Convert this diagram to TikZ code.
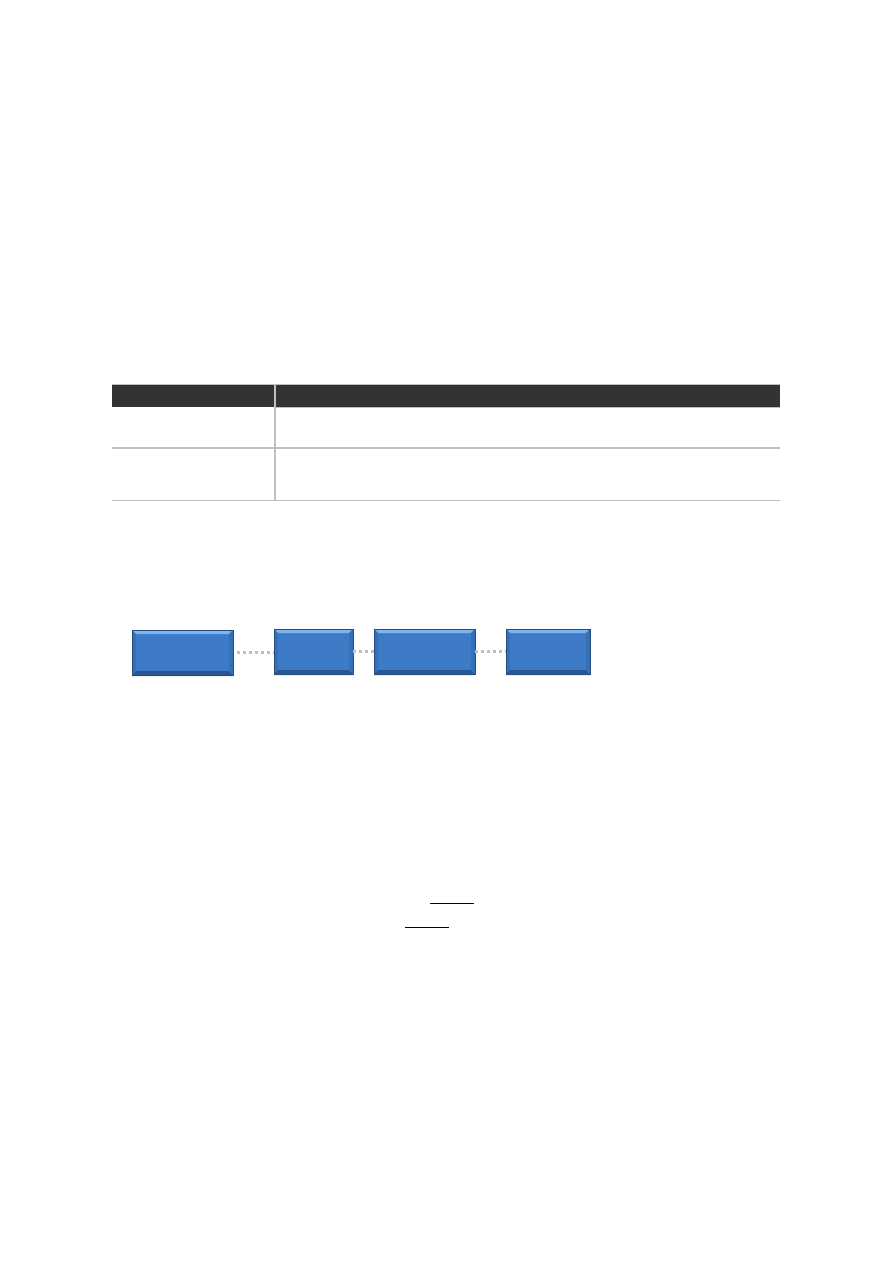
\documentclass[tikz,border=0pt]{standalone}
\usetikzlibrary{shadows}

\definecolor{headgray}{HTML}{333333}
\definecolor{rulegray}{HTML}{BFBFBF}
\definecolor{boxface}{HTML}{3D7BC6}
\definecolor{boxtop}{HTML}{7DB5F0}
\definecolor{boxbottom}{HTML}{2B5691}
\definecolor{boxside}{HTML}{3670B9}
\definecolor{boxline}{HTML}{264C7E}

\newcommand\TBleft{112}
\newcommand\TBright{780}
\newcommand\TBmid{275}
\newcommand\BVL{3pt}

\tikzset{
  bevelbox/.style={draw=boxline, line width=0.5pt, fill=boxface,
    minimum height=33.75pt, inner sep=0pt,
    drop shadow={opacity=0.15, shadow xshift=0pt, shadow yshift=-1.2pt},
    path picture={
      \fill[boxtop] (path picture bounding box.north west) -- (path picture bounding box.north east)
        -- ([xshift=-\BVL,yshift=-\BVL]path picture bounding box.north east)
        -- ([xshift=\BVL,yshift=-\BVL]path picture bounding box.north west) -- cycle;
      \fill[boxbottom] (path picture bounding box.south west) -- (path picture bounding box.south east)
        -- ([xshift=-\BVL,yshift=\BVL]path picture bounding box.south east)
        -- ([xshift=\BVL,yshift=\BVL]path picture bounding box.south west) -- cycle;
      \fill[boxside] (path picture bounding box.north west) -- ([xshift=\BVL,yshift=-\BVL]path picture bounding box.north west)
        -- ([xshift=\BVL,yshift=\BVL]path picture bounding box.south west) -- (path picture bounding box.south west) -- cycle;
      \fill[boxside] (path picture bounding box.north east) -- ([xshift=-\BVL,yshift=-\BVL]path picture bounding box.north east)
        -- ([xshift=-\BVL,yshift=\BVL]path picture bounding box.south east) -- (path picture bounding box.south east) -- cycle;
    }},
  dotlink/.style={rulegray, line width=2.25pt, dash pattern=on 2.25pt off 2.25pt}
}

\begin{document}
\begin{tikzpicture}[x=0.75pt,y=-0.75pt]

\useasboundingbox (0,0) rectangle (893,1263);

\coordinate (HL) at (\TBleft,384);
\coordinate (HR) at (\TBright,407);
\coordinate (ML) at (\TBleft,448);
\coordinate (MR) at (\TBright,448);
\coordinate (BL) at (\TBleft,500.5);
\coordinate (BR) at (\TBright,500.5);
\coordinate (CT) at (\TBmid,384);
\coordinate (CB) at (\TBmid,500.5);

 \fill[headgray] (HL) rectangle (HR);
 \draw[rulegray, line width=0.75pt] (HL) -- (HL -| HR);
 \draw[rulegray, line width=1.1pt] (\TBmid,407.5) -- (\TBright,407.5);
 \draw[rulegray, line width=0.9pt] (ML) -- (MR);
 \draw[rulegray, line width=0.9pt] (BL) -- (BR);
 \draw[rulegray, line width=1pt] (CT) -- (CB);

\node[bevelbox, minimum width=75.75pt] (BA) at (182.5,652.5) {};
\node[bevelbox, minimum width=59.25pt] (BB) at (313.5,651.5) {};
\node[bevelbox, minimum width=75.75pt] (BC) at (424.5,651.5) {};
\node[bevelbox, minimum width=63pt] (BD) at (548,651.5) {};

 \draw[dotlink] ([xshift=2.5pt]BA.east) -- (BA.east -| BB.west);
 \draw[dotlink] (BB.east) -- (BC.west);
 \draw[dotlink] (BC.east) -- (BD.west);

 \draw[line width=0.75pt] (430,903.3) -- (474,903.3);
 \draw[line width=1pt] (405,927.3) -- (449,927.3);

\end{tikzpicture}
\end{document}
